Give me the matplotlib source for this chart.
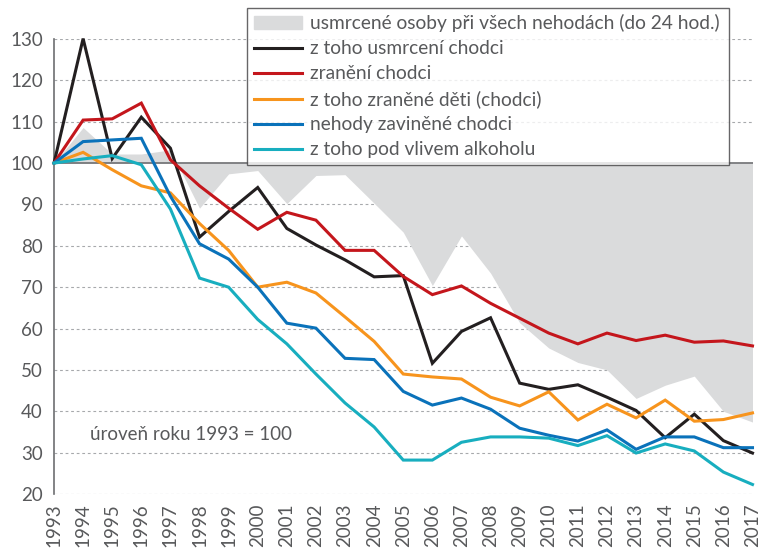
import matplotlib.pyplot as plt
import matplotlib.patches as mpatches

### years on the x axis
years = list(range(1993, 2018))

### index values (1993 = 100)
killed_all = [100, 108.6, 102.2, 102.2, 103.2, 89.1, 97.4, 98.2, 90.2, 97.0, 97.2, 90.3,
              83.3, 70.4, 82.4, 73.4, 61.4, 55.3, 51.8, 50.0, 43.1, 46.3, 48.5, 40.0, 37.4]
killed_ped = [100, 130.1, 101.1, 111.1, 103.6, 82.1, 88.3, 94.1, 84.2, 80.2, 76.6, 72.5,
              72.8, 51.6, 59.3, 62.6, 46.8, 45.3, 46.4, 43.4, 40.2, 33.6, 39.3, 32.9, 29.9]
injured_ped = [100, 110.4, 110.7, 114.5, 100.8, 94.5, 89.1, 84.0, 88.1, 86.2, 78.9, 78.9,
               72.6, 68.2, 70.3, 66.1, 62.5, 58.9, 56.3, 58.9, 57.1, 58.4, 56.7, 57.0, 55.8]
injured_children = [100, 102.6, 98.4, 94.5, 92.8, 85.4, 78.9, 70.0, 71.2, 68.6, 62.8, 56.9,
                    49.0, 48.3, 47.8, 43.4, 41.3, 44.7, 37.9, 41.7, 38.4, 42.7, 37.6, 38.0, 39.6]
caused_ped = [100, 105.2, 105.6, 106.0, 92.0, 80.5, 76.8, 70.0, 61.3, 60.1, 52.8, 52.5,
              44.8, 41.5, 43.2, 40.5, 35.9, 34.2, 32.8, 35.5, 30.8, 33.8, 33.8, 31.2, 31.2]
caused_alcohol = [100, 101.0, 101.8, 99.6, 88.9, 72.2, 70.0, 62.2, 56.3, 49.0, 42.0, 36.2,
                  28.2, 28.2, 32.5, 33.8, 33.8, 33.5, 31.7, 34.1, 29.9, 32.1, 30.4, 25.3, 22.3]

labels = ['usmrcené osoby při všech nehodách (do 24 hod.)',
          'z toho usmrcení chodci',
          'zranění chodci',
          'z toho zraněné děti (chodci)',
          'nehody zaviněné chodci',
          'z toho pod vlivem alkoholu']

### colours
gray_fill = '#dadbdc'
text_color = '#58595b'
line_colors = ['#231f20', '#c4161c', '#f7941d', '#0a72ba', '#18aebf']

plt.rcParams['font.family'] = ['Lato', 'DejaVu Sans']

fig = plt.figure(figsize=(7.58, 5.48), dpi=100)
ax = fig.add_axes([54 / 758, 1 - 494 / 548, (752.5 - 54) / 758, (494 - 39) / 548])

### dashed grid behind everything
for level in range(20, 131, 10):
    if level == 100:
        continue
    ax.axhline(level, color='#a7a9ac', linewidth=0.8, linestyle=(0, (2.5, 2.5)), zorder=0)

### gray area between 100 and all road deaths
ax.fill_between(years, 100, killed_all, color=gray_fill, linewidth=0, zorder=1)
ax.axhline(100, color='#6d6e71', linewidth=1.2, zorder=2)

### the pedestrian lines
series = [killed_ped, injured_ped, injured_children, caused_ped, caused_alcohol]
handles = [mpatches.Patch(color=gray_fill, label=labels[0])]
for values, color, label in zip(series, line_colors, labels[1:]):
    line, = ax.plot(years, values, color=color, linewidth=2.2, label=label,
                    solid_joinstyle='miter', zorder=3, clip_on=False)
    handles.append(line)

ax.text(1994.25, 34.3, 'úroveň roku 1993 = 100', fontsize=13.5, color=text_color,
        va='center', ha='left')

### axes limits and ticks
ax.set_xlim(1993, 2017)
ax.set_ylim(20, 130)
ax.set_xticks(years)
ax.set_xticklabels([str(y) for y in years], rotation=90, fontsize=13.5, color=text_color)
ax.set_yticks(range(20, 131, 10))
ax.set_yticklabels([str(v) for v in range(20, 131, 10)], fontsize=13.5, color=text_color)
ax.tick_params(axis='x', length=0, pad=7)
ax.tick_params(axis='y', length=0, pad=8)

for side in ['top', 'right', 'bottom']:
    ax.spines[side].set_visible(False)
ax.spines['left'].set_color('#6d6e71')
ax.spines['left'].set_linewidth(1.2)

### legend box in the top right
leg = fig.legend(handles=handles, loc='upper left',
                 bbox_to_anchor=(247 / 758, 1 - 13 / 548, (729 - 247) / 758, 0.01),
                 mode='expand', fontsize=13.8, frameon=True, fancybox=False,
                 edgecolor='#414042', handlelength=2.5, handleheight=0.6,
                 handletextpad=0.45, labelspacing=0.42, borderpad=0.35,
                 borderaxespad=0)
leg.get_frame().set_linewidth(1.0)
for t in leg.get_texts():
    t.set_color(text_color)

plt.savefig('out.png', dpi=100)
